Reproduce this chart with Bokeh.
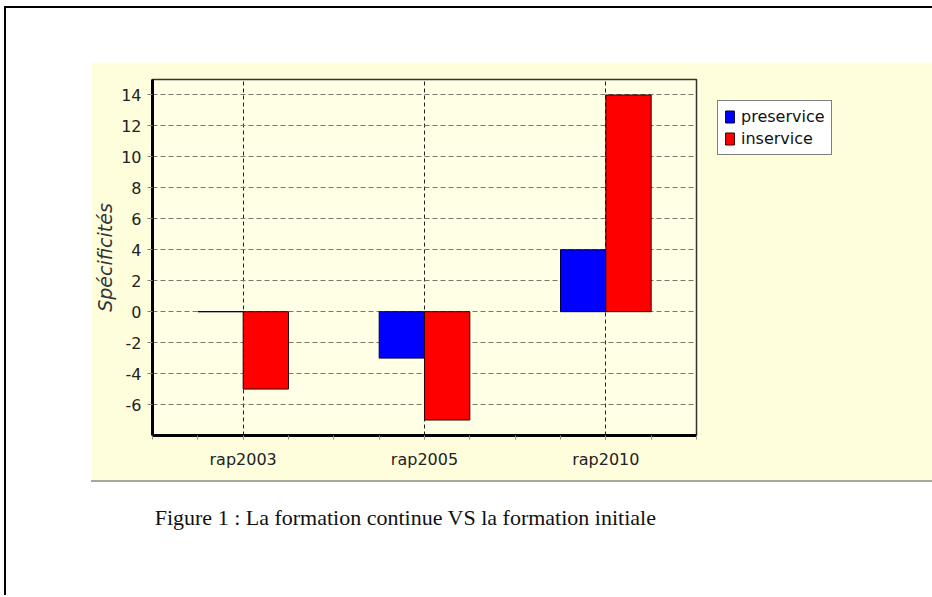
from bokeh.plotting import figure
from bokeh.layouts import column
from bokeh.models import (ColumnDataSource, Range1d, FixedTicker, PrintfTickFormatter,
                          Legend, LegendItem)
from bokeh.transform import dodge
from bokeh.embed import file_html
from bokeh.resources import INLINE
from bokeh.core.properties import value

# ---- data ----
categories = ["rap2003", "rap2005", "rap2010"]
preservice = [0, -3, 4]
inservice = [-5, -7, 14]
y_ticks = [-6, -4, -2, 0, 2, 4, 6, 8, 10, 12, 14]
series_names = ["preservice", "inservice"]
y_label = "Spécificités"
caption = "Figure 1 : La formation continue VS la formation initiale"

FONT = "DejaVu Sans"
FW = 543          # plot-area width (shared by both strips so they align)
BL = 61           # left panel border

xs = list(range(1, len(categories) + 1))
src = ColumnDataSource(dict(x=xs, pre=preservice, ins=inservice))

p = figure(frame_width=FW, frame_height=354, output_backend="svg", toolbar_location=None,
           x_range=Range1d(0.5, len(categories) + 0.5), y_range=Range1d(-8, 15),
           min_border_left=BL, min_border_right=9,
           min_border_top=17, min_border_bottom=47)
p.margin = (54, 71, 0, 85)
p.align = "start"
p.styles = {"border-bottom": "2px solid #A9A99A", "border-right": "1px solid #B9B9A9"}

p.background_fill_color = "#FFFFE6"
p.border_fill_color = "#FFFEDC"
p.outline_line_color = "#333333"
p.outline_line_width = 1.5

# bars
r1 = p.vbar(x=dodge("x", -0.125, range=p.x_range), top="pre", bottom=0, width=0.25,
            source=src, fill_color="#0000FF", line_color="#000040", line_width=1)
r2 = p.vbar(x=dodge("x", 0.125, range=p.x_range), top="ins", bottom=0, width=0.25,
            source=src, fill_color="#FF0000", line_color="#300000", line_width=1)

# axes
p.xaxis.ticker = FixedTicker(ticks=xs, minor_ticks=[0.5 + 0.25 * i for i in range(4 * len(categories) + 1)])
p.xaxis.major_label_overrides = {x: c for x, c in zip(xs, categories)}
p.yaxis.ticker = FixedTicker(ticks=y_ticks)
p.yaxis.formatter = PrintfTickFormatter(format="%d")

for ax in (p.xaxis[0], p.yaxis[0]):
    ax.axis_line_color = "black"
    ax.axis_line_width = 3
    ax.major_tick_line_color = "#808080"
    ax.major_tick_in = 0
    ax.major_label_text_font = FONT
    ax.major_label_text_font_size = "16px"
    ax.major_label_text_color = "#222222"

p.xaxis.major_tick_out = 4
p.xaxis.minor_tick_out = 4
p.xaxis.minor_tick_in = 0
p.xaxis.minor_tick_line_color = "#909090"
p.xaxis.major_label_standoff = 10

p.yaxis.major_tick_out = 5
p.yaxis.minor_tick_out = 0
p.yaxis.minor_tick_in = 0
p.yaxis.major_label_standoff = 6
p.yaxis.axis_label = y_label
p.yaxis.axis_label_text_font = FONT
p.yaxis.axis_label_text_font_size = "19px"
p.yaxis.axis_label_text_font_style = "italic"
p.yaxis.axis_label_text_color = "#333333"
p.yaxis.axis_label_standoff = 2

# grids
p.xgrid.grid_line_color = "#202020"
p.xgrid.grid_line_dash = "4 3"
p.xgrid.grid_line_width = 1
p.ygrid.grid_line_color = "#77776a"
p.ygrid.grid_line_dash = "5 3"
p.ygrid.grid_line_width = 1

# legend in the right side panel
legend = Legend(items=[LegendItem(label=series_names[0], renderers=[r1]),
                       LegendItem(label=series_names[1], renderers=[r2])],
                location="top_left")
legend.background_fill_color = "white"
legend.background_fill_alpha = 1
legend.border_line_color = "black"
legend.border_line_width = 1
legend.label_text_font = FONT
legend.label_text_font_size = "16px"
legend.label_text_color = "#111111"
legend.glyph_width = 11
legend.glyph_height = 15
legend.label_height = 19
legend.label_standoff = 6
legend.spacing = 3
legend.padding = 6
legend.margin = 21
p.add_layout(legend, "right")

# caption strip (white, below the panel), same horizontal structure as the chart
CH = 113
c = figure(frame_width=FW, frame_height=CH, output_backend="svg", toolbar_location=None,
           x_range=Range1d(0, FW), y_range=Range1d(CH, 0),
           min_border_left=BL, min_border_right=166, min_border_top=0, min_border_bottom=0,
           x_axis_type=None, y_axis_type=None)
c.margin = (0, 71, 0, 85)
c.align = "start"
c.outline_line_color = None
c.background_fill_color = "white"
c.border_fill_color = "white"
c.grid.visible = False
c.text(x=[253], y=[35], text=[caption], text_align="center", text_baseline="middle",
       text_font=value("Liberation Serif"), text_font_size="22px", text_color="#111111")

layout = column(p, c, spacing=0)
layout.margin = (6, 0, 0, 4)
layout.styles = {"border-top": "2px solid black", "border-left": "2px solid black"}

open("out.html", "w").write(file_html(layout, INLINE))
